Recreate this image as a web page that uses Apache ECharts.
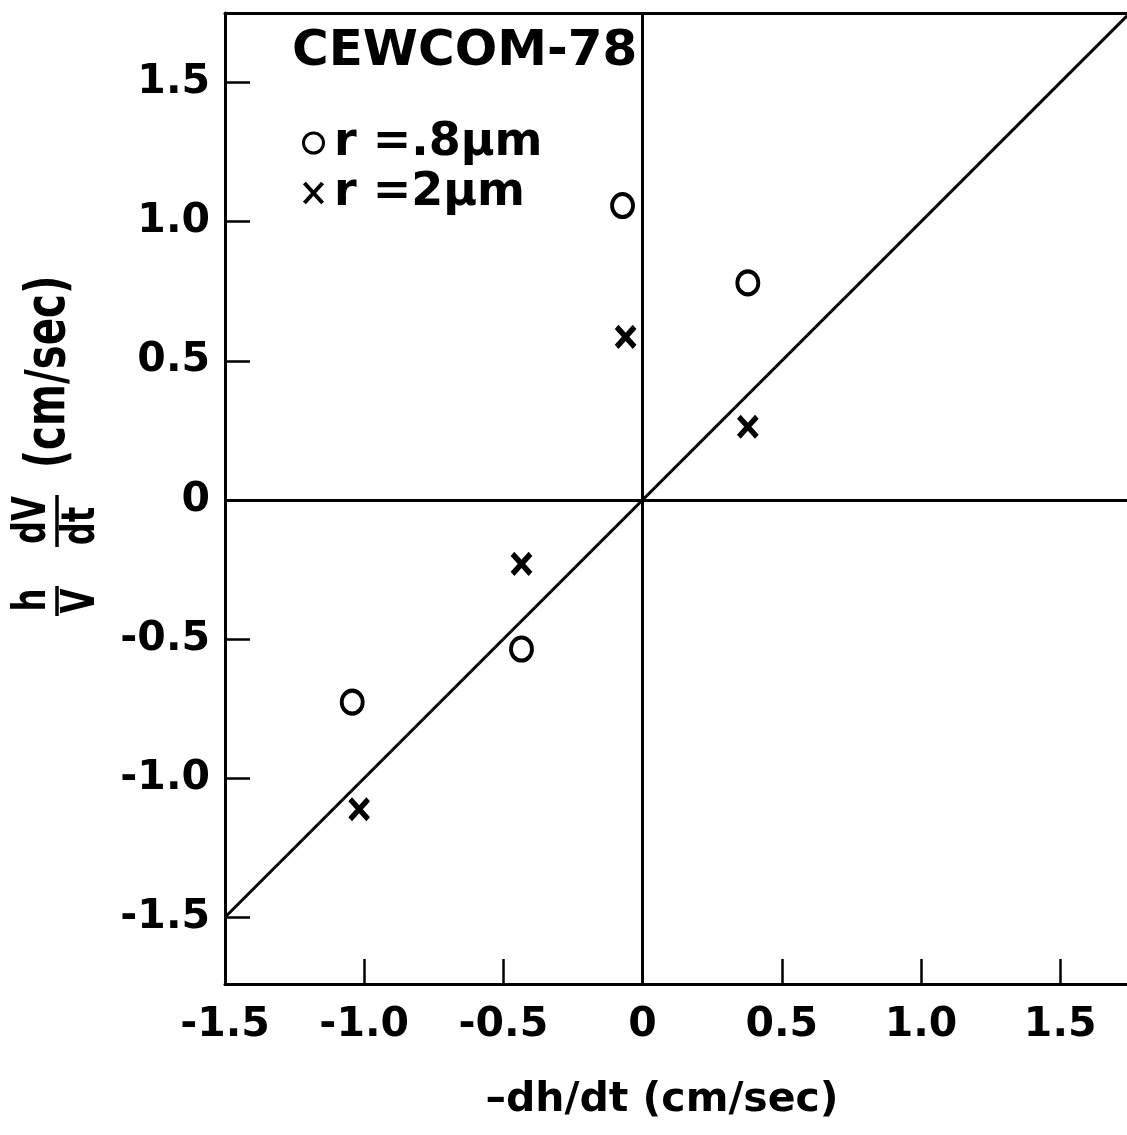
<!DOCTYPE html>
<html>
<head>
<meta charset="utf-8">
<script src="https://cdn.jsdelivr.net/npm/echarts@6/dist/echarts.min.js"></script>
<style>
html,body{margin:0;padding:0;background:#fff;}
#chart{width:1127px;height:1135px;}
</style>
</head>
<body>
<div id="chart"></div>
<script>
// ---- data ----
const circleName = 'r =.8µm';
const circleX = [-0.072, 0.378, -0.435, -1.043];
const circleY = [1.058, 0.780, -0.536, -0.727];

const crossName = 'r =2µm';
const crossX = [-0.061, 0.378, -0.435, -1.018];
const crossY = [0.586, 0.263, -0.230, -1.112];

const refLineX = [-1.5, 1.74];
const refLineY = [-1.5, 1.74];

const xTickValues = [-1.5, -1.0, -0.5, 0, 0.5, 1.0, 1.5];
const xTickLabels = ['-1.5', '-1.0', '-0.5', '0', '0.5', '1.0', '1.5'];
const yTickValues = [-1.5, -1.0, -0.5, 0, 0.5, 1.0, 1.5];
const yTickLabels = ['-1.5', '-1.0', '-0.5', '0', '0.5', '1.0', '1.5'];

const titleText = 'CEWCOM-78';
const xAxisName = '\u2013dh/dt (cm/sec)';
const yNameNum1 = 'h', yNameDen1 = 'V';
const yNameNum2 = 'dV', yNameDen2 = 'dt';
const yNameUnit = '(cm/sec)';

// ---- chart ----
const FONT = '"DejaVu Sans", sans-serif';
const zip = (a, b) => a.map((v, i) => [v, b[i]]);
const labelFor = (vals, labs) => v => {
  const i = vals.findIndex(t => Math.abs(t - v) < 1e-6);
  return i >= 0 ? labs[i] : '';
};
const crossPath = 'path://M0,0L20,22M20,0L0,22';

const chart = echarts.init(document.getElementById('chart'), null, {renderer: 'canvas'});

const tickStyle = {show: true, inside: true, length: 25, lineStyle: {color: '#000', width: 2.5}};
const lineStyle = {color: '#000', width: 3};

const rotText = (text, x, y, size, sx) => ({
  type: 'text', x: x, y: y, rotation: Math.PI / 2, scaleX: sx, scaleY: 1,
  style: {text: text, font: 'bold ' + size + 'px ' + FONT, fill: '#000', align: 'center', verticalAlign: 'middle'}
});

chart.setOption({
  animation: false,
  backgroundColor: '#fff',
  title: {
    text: titleText, left: 287, top: 22,
    textStyle: {fontFamily: FONT, fontWeight: 'bold', fontSize: 50, color: '#000'}
  },
  legend: {
    orient: 'vertical', left: 297, top: 115, itemGap: 4,
    itemWidth: 31, itemHeight: 20,
    textStyle: {fontFamily: FONT, fontWeight: 'bold', fontSize: 46, color: '#000'},
    data: [
      {name: circleName, icon: 'circle', itemStyle: {color: '#fff', borderColor: '#000', borderWidth: 3}},
      {name: crossName, icon: crossPath, itemStyle: {color: 'rgba(0,0,0,0)', borderColor: '#000', borderWidth: 4}}
    ]
  },
  grid: {left: 225, right: 0, top: 13, bottom: 151, containLabel: false},
  xAxis: [{
    type: 'value', min: -1.5, max: 1.74, position: 'bottom',
    axisLine: {show: true, onZero: false, lineStyle: lineStyle},
    axisTick: Object.assign({customValues: xTickValues}, tickStyle),
    splitLine: {show: false},
    axisLabel: {
      customValues: xTickValues, formatter: labelFor(xTickValues, xTickLabels),
      margin: 21, fontFamily: FONT, fontWeight: 'bold', fontSize: 41, color: '#000'
    },
    name: xAxisName, nameLocation: 'middle', nameGap: 96,
    nameTextStyle: {fontFamily: FONT, fontWeight: 'bold', fontSize: 41, color: '#000', padding: [0, 28, 0, 0]}
  }, {
    type: 'value', min: -1.5, max: 1.74, position: 'top',
    axisLine: {show: true, onZero: false, lineStyle: lineStyle},
    axisTick: {show: false}, axisLabel: {show: false}, splitLine: {show: false}
  }],
  yAxis: [{
    type: 'value', min: -1.74, max: 1.75, position: 'left',
    axisLine: {show: true, onZero: false, lineStyle: lineStyle},
    axisTick: Object.assign({customValues: yTickValues}, tickStyle),
    splitLine: {show: false},
    axisLabel: {
      customValues: yTickValues, formatter: labelFor(yTickValues, yTickLabels),
      margin: 15, fontFamily: FONT, fontWeight: 'bold', fontSize: 41, color: '#000'
    }
  }],
  graphic: [
    rotText(yNameUnit, 49, 372, 56, 0.72),
    rotText(yNameNum2, 33, 520, 46, 0.7),
    rotText(yNameDen2, 82, 526, 46, 0.7),
    {type: 'line', shape: {x1: 57, y1: 495, x2: 57, y2: 547}, style: {stroke: '#000', lineWidth: 3.5}},
    rotText(yNameNum1, 33, 600, 46, 0.7),
    rotText(yNameDen1, 82, 601, 46, 0.7),
    {type: 'line', shape: {x1: 57, y1: 586, x2: 57, y2: 616}, style: {stroke: '#000', lineWidth: 3.5}}
  ],
  series: [
    {
      name: '1:1', type: 'line', data: zip(refLineX, refLineY),
      symbol: 'none', lineStyle: {color: '#000', width: 3}, silent: true, z: 1,
      markLine: {
        silent: true, symbol: 'none', label: {show: false},
        lineStyle: {color: '#000', width: 3, type: 'solid'},
        data: [{xAxis: 0}, {yAxis: 0}]
      }
    },
    {
      name: circleName, type: 'scatter', data: zip(circleX, circleY),
      symbol: 'circle', symbolSize: [21, 23], z: 3,
      itemStyle: {color: '#fff', borderColor: '#000', borderWidth: 4, opacity: 1}
    },
    {
      name: crossName, type: 'scatter', data: zip(crossX, crossY),
      symbol: crossPath, symbolSize: [18, 20], symbolKeepAspect: false, z: 3,
      itemStyle: {color: 'rgba(0,0,0,0)', borderColor: '#000', borderWidth: 5.5, opacity: 1}
    }
  ]
});
</script>
</body>
</html>
